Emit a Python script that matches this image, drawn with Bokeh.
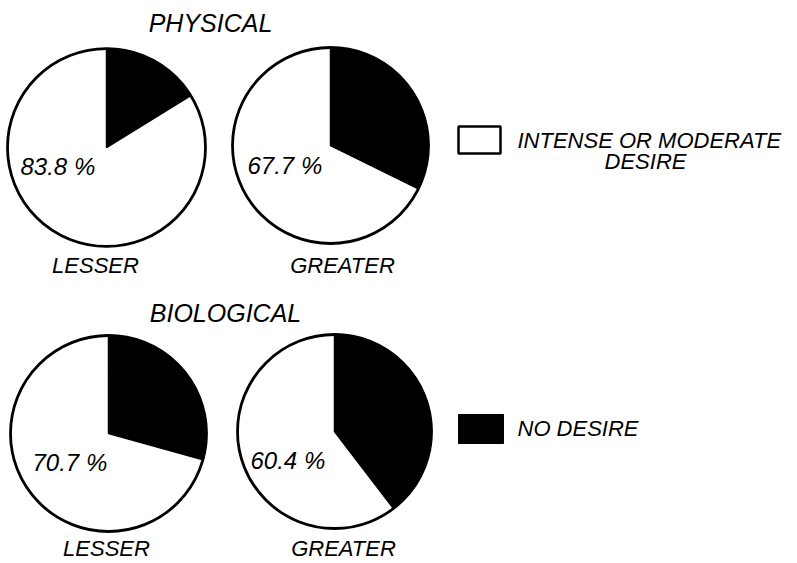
from bokeh.plotting import figure
from bokeh.models import Range1d, ColumnDataSource
from bokeh.core.properties import value
from bokeh.embed import file_html
from bokeh.resources import INLINE
import math

# ---- data ----
panels = ["PHYSICAL", "BIOLOGICAL"]
groups = ["LESSER", "GREATER"]
physical_desire = [83.8, 67.7]     # % intense or moderate desire
biological_desire = [70.7, 60.4]
legend_labels = ["INTENSE OR MODERATE", "DESIRE", "NO DESIRE"]

# ---- layout (image pixel coordinates, y down) ----
W, H = 797, 563
def Y(y):
    return H - y

centers = [[(106, 147), (330, 145)], [(108, 433), (334, 431)]]
radii = [[99, 98], [98, 97]]
title_pos = [(210, 22), (225, 312)]
group_pos = [[(95, 265), (342, 265)], [(106, 548), (343, 548)]]
pct_pos = [[(20, 166), (247, 165)], [(32, 462), (250, 460)]]

p = figure(width=W, height=H, output_backend="svg", toolbar_location=None,
           x_range=Range1d(0, W), y_range=Range1d(0, H), min_border=0)
p.axis.visible = False
p.grid.visible = False
p.outline_line_color = None
p.background_fill_color = "white"
p.border_fill_color = "white"

FONT = value("Liberation Sans")
data = [physical_desire, biological_desire]

for r, vals in enumerate(data):
    for c, v in enumerate(vals):
        cx, cy = centers[r][c]
        rad = radii[r][c]
        black_frac = (100.0 - v) / 100.0
        start = math.pi / 2 - black_frac * 2 * math.pi
        end = math.pi / 2
        src = ColumnDataSource(dict(x=[cx], y=[Y(cy)]))
        # white (desire) part
        p.wedge(x="x", y="y", radius=rad, start_angle=end, end_angle=start,
                direction="anticlock", fill_color="white", line_color=None, source=src)
        # black (no desire) part
        p.wedge(x="x", y="y", radius=rad, start_angle=start, end_angle=end,
                direction="anticlock", fill_color="black", line_color="black",
                line_width=1.5, source=src)
        # outline
        p.circle(x="x", y="y", radius=rad, fill_color=None, line_color="black",
                 line_width=2.8, source=src)
        # percent label
        px, py = pct_pos[r][c]
        p.text(x=[px], y=[Y(py)], text=[f"{v} %"], text_font=FONT,
               text_font_style="italic", text_font_size="24px",
               text_align="left", text_baseline="middle", text_color="black")
        # group label
        gx, gy = group_pos[r][c]
        p.text(x=[gx], y=[Y(gy)], text=[groups[c]], text_font=FONT,
               text_font_style="italic", text_font_size="22px",
               text_align="center", text_baseline="middle", text_color="black")
    tx, ty = title_pos[r]
    p.text(x=[tx], y=[Y(ty)], text=[panels[r]], text_font=FONT,
           text_font_style="italic", text_font_size="25px",
           text_align="center", text_baseline="middle", text_color="black")

# legend boxes
p.quad(left=[458], right=[500], top=[Y(126)], bottom=[Y(153)],
       fill_color="white", line_color="black", line_width=2.5)
p.quad(left=[458], right=[503], top=[Y(414)], bottom=[Y(443)],
       fill_color="black", line_color="black", line_width=1)

p.text(x=[517], y=[Y(140)], text=[legend_labels[0]], text_font=FONT,
       text_font_style="italic", text_font_size="22px",
       text_align="left", text_baseline="middle", text_color="black")
p.text(x=[645], y=[Y(161)], text=[legend_labels[1]], text_font=FONT,
       text_font_style="italic", text_font_size="22px",
       text_align="center", text_baseline="middle", text_color="black")
p.text(x=[517], y=[Y(428)], text=[legend_labels[2]], text_font=FONT,
       text_font_style="italic", text_font_size="22px",
       text_align="left", text_baseline="middle", text_color="black")

open("out.html", "w").write(file_html(p, INLINE))
